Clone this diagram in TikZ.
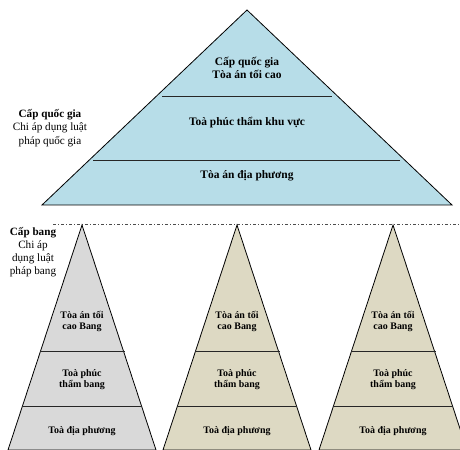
\documentclass[tikz,border=0pt]{standalone}
\usepackage{fontspec}
\setmainfont{Liberation Serif}
\definecolor{natblue}{RGB}{183,221,232}
\definecolor{stategray}{RGB}{217,217,217}
\definecolor{statetan}{RGB}{221,217,195}
\begin{document}
\begin{tikzpicture}[x=1bp,y=-1bp,
  tier/.style={draw=black,line width=0.8bp},
  divider/.style={draw=black!85,line width=0.8bp},
  lvl/.style={font=\bfseries\fontsize{11.5}{12.5}\selectfont,align=center,inner sep=0},
  slvl/.style={font=\bfseries\fontsize{10}{11}\selectfont,align=center,inner sep=0},
  side/.style={font=\fontsize{11.2}{13.2}\selectfont,align=center,inner sep=0},
  sideb/.style={font=\fontsize{11.2}{13}\selectfont,align=center,inner sep=0}]
\useasboundingbox (0,0) rectangle (460,450);
\clip (0,0) rectangle (460,450);

% national court pyramid
\filldraw[fill=natblue,tier] (247,10) -- (452,205) -- (42,205) -- cycle;
\draw[divider] (162,96) -- (332,96);
\draw[divider] (93,160) -- (400,160);
\node[lvl] (natTop) at (247,68) {Cấp quốc gia\\Tòa án tối cao};
\node[lvl] (natMid) at (247,123) {Toà phúc thẩm khu vực};
\node[lvl] (natLow) at (247,176) {Tòa án địa phương};
\node[side] (natLabel) at (50,128) {\textbf{Cấp quốc gia}\\Chi áp dụng luật\\pháp quốc gia};

% boundary between national and state levels
\draw[black!70,line width=0.7bp,dash pattern=on 3bp off 2bp on 1bp off 2bp] (53,224) -- (460,224);

% state court pyramids
\foreach \cx/\col/\id in {82/stategray/a,237/statetan/b,393/statetan/c}{
  \filldraw[fill=\col,tier] (\cx,225) -- (\cx+74,450) -- (\cx-74,450) -- cycle;
  \draw[divider] (\cx-42,351) -- (\cx+43,351);
  \draw[divider] (\cx-60,406) -- (\cx+60,406);
  \node[slvl] (top\id) at (\cx,321) {Tòa án tối\\cao Bang};
  \node[slvl] (mid\id) at (\cx,380) {Toà phúc\\thẩm bang};
  \node[slvl] (low\id) at (\cx,431) {Toà địa phương};
}
\node[sideb] (stateLabel) at (33,252) {\textbf{Cấp bang}\\Chi áp\\dụng luật\\pháp bang};
\end{tikzpicture}
\end{document}
